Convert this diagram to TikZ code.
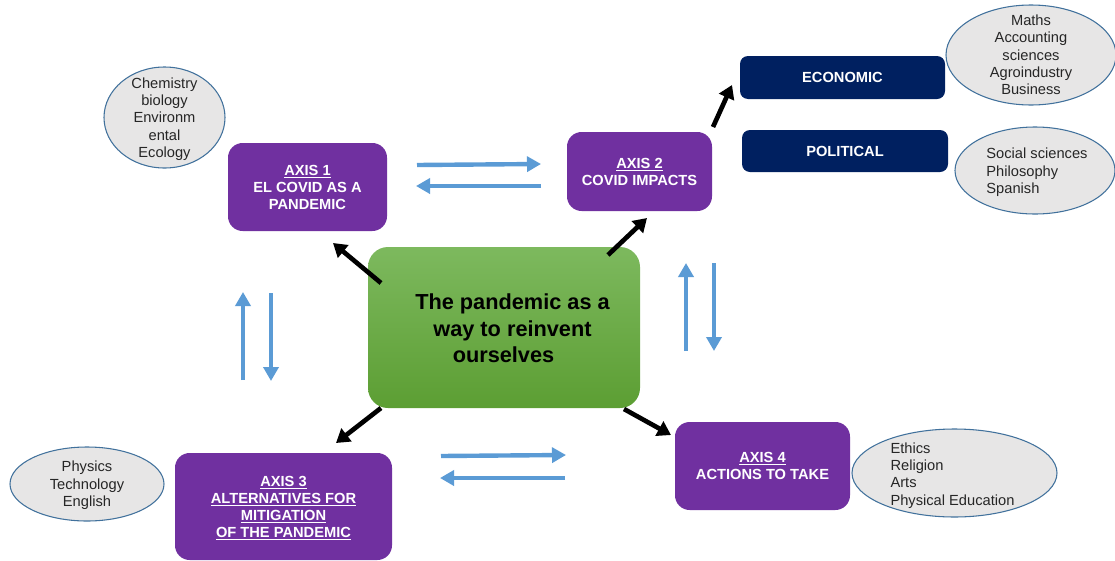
\documentclass[tikz,border=0pt]{standalone}
\usepackage{fontspec}
\setmainfont{Liberation Sans}
\usetikzlibrary{shapes.geometric,arrows.meta}
\definecolor{axpurple}{HTML}{7030A0}
\definecolor{navy}{HTML}{002060}
\definecolor{ellfill}{HTML}{E7E6E6}
\definecolor{elldraw}{HTML}{41719C}
\definecolor{bluearr}{HTML}{5B9BD5}
\definecolor{gtop}{HTML}{7DB95E}
\definecolor{gbot}{HTML}{5C9E33}
\tikzset{
  axisbox/.style={fill=axpurple, rounded corners=11pt, text=white, align=center, inner sep=0pt, text depth=0pt,
     font=\fontsize{11}{12.8}\selectfont\bfseries},
  navybox/.style={fill=navy, rounded corners=6pt, text=white, align=center, inner sep=0pt, text depth=0pt,
     font=\fontsize{11}{12.8}\selectfont\bfseries},
  subj/.style={ellipse, fill=ellfill, draw=elldraw, line width=0.8pt, inner sep=0pt},
  subjtext/.style={inner sep=0pt, text=black!85, text depth=0pt, font=\fontsize{11}{13}\selectfont},
  blk/.style={line width=3.5pt, -{Triangle[length=10pt,width=12pt]}},
  blu/.style={line width=3.3pt, bluearr, -{Triangle[length=10.5pt,width=11.25pt]}},
}
\begin{document}
\begin{tikzpicture}[x=0.75pt,y=-0.75pt]
\useasboundingbox (0,0) rectangle (1115,561);
% center
\node[rounded corners=15pt, top color=gtop, bottom color=gbot, minimum width=204pt, minimum height=120.75pt, inner sep=0pt] (center) at (504,327.5) {};
\node[align=center, font=\fontsize{16.3}{19.9}\selectfont\bfseries, text=black] (ctext) at (512.5,328.5) {The pandemic as a\\way to reinvent\hspace*{12.75pt}\\ourselves\hspace*{13.5pt}};
% axes
\node[axisbox, minimum width=119.25pt, minimum height=66pt] (ax1) at (307.5,187) {\underline{AXIS 1}\\EL COVID AS A\\PANDEMIC};
\node[axisbox, minimum width=108.75pt, minimum height=59.25pt] (ax2) at (639.5,171.5) {\underline{AXIS 2}\\COVID IMPACTS};
\node[axisbox, minimum width=162.75pt, minimum height=80.25pt] (ax3) at (283.5,506.5) {\underline{AXIS 3}\\\underline{ALTERNATIVES FOR}\\\underline{MITIGATION}\\\underline{OF THE PANDEMIC}};
\node[axisbox, minimum width=131.25pt, minimum height=66pt] (ax4) at (762.5,466) {\underline{AXIS 4}\\ACTIONS TO TAKE};
% navy
\node[navybox, minimum width=153.75pt, minimum height=32.25pt] (eco) at (842.5,77.5) {ECONOMIC};
\node[navybox, minimum width=154.5pt, minimum height=31.5pt] (pol) at (845,151) {POLITICAL};
% ellipses
\node[subj, minimum width=90.75pt, minimum height=75.75pt] (chem) at (164.5,117.5) {};
\node[subjtext, align=center] (chemt) at (chem.center) {Chemistry\\biology\\Environm\\ental\\Ecology};
\node[subj, minimum width=127.5pt, minimum height=75pt] (maths) at (1031,55) {};
\node[subjtext, align=center] (mathst) at (maths.center) {Maths\\Accounting\\sciences\\Agroindustry\\Business};
\node[subj, minimum width=120pt, minimum height=65.25pt] (soc) at (1035,170.5) {};
\node[subjtext, align=left] (soct) at (1037,171) {Social sciences\\Philosophy\\Spanish};
\node[subj, minimum width=115.5pt, minimum height=55.5pt] (phys) at (87,484) {};
\node[subjtext, align=center] (physt) at (phys.center) {Physics\\Technology\\English};
\node[subj, minimum width=153.75pt, minimum height=66pt] (eth) at (954.5,473) {};
\node[subjtext, align=left] (etht) at (952.5,474) {Ethics\\Religion\\Arts\\Physical Education};
% black arrow ends
\coordinate (b1s) at (381,283); \coordinate (b1e) at (333,243);
\coordinate (b2s) at (608,255); \coordinate (b2e) at (647,218);
\coordinate (b3s) at (713,127); \coordinate (b3e) at (732,85);
\coordinate (b4s) at (381,408); \coordinate (b4e) at (336,443);
\coordinate (b5s) at (624,409); \coordinate (b5e) at (671,435);
\draw[blk] (b1s) -- (b1e);
\draw[blk] (b2s) -- (b2e);
\draw[blk] (b3s) -- (b3e);
\draw[blk] (b4s) -- (b4e);
\draw[blk] (b5s) -- (b5e);
% blue arrows
\coordinate (h1a) at (417,165); \coordinate (h1b) at (541,164);
\coordinate (h2a) at (541,186); \coordinate (h2b) at (416,186);
\coordinate (v1a) at (243,380); \coordinate (v1b) at (243,292);
\coordinate (v2a) at (271,293); \coordinate (v2b) at (271,381);
\coordinate (v3a) at (686,351); \coordinate (v3b) at (686,263);
\coordinate (v4a) at (714,263); \coordinate (v4b) at (714,351);
\coordinate (h3a) at (441,456); \coordinate (h3b) at (566,455);
\coordinate (h4a) at (565,478); \coordinate (h4b) at (440,478);
\draw[blu] (h1a) -- (h1b);
\draw[blu] (h2a) -- (h2b);
\draw[blu] (v1a) -- (v1b);
\draw[blu] (v2a) -- (v2b);
\draw[blu] (v3a) -- (v3b);
\draw[blu] (v4a) -- (v4b);
\draw[blu] (h3a) -- (h3b);
\draw[blu] (h4a) -- (h4b);
\end{tikzpicture}
\end{document}
